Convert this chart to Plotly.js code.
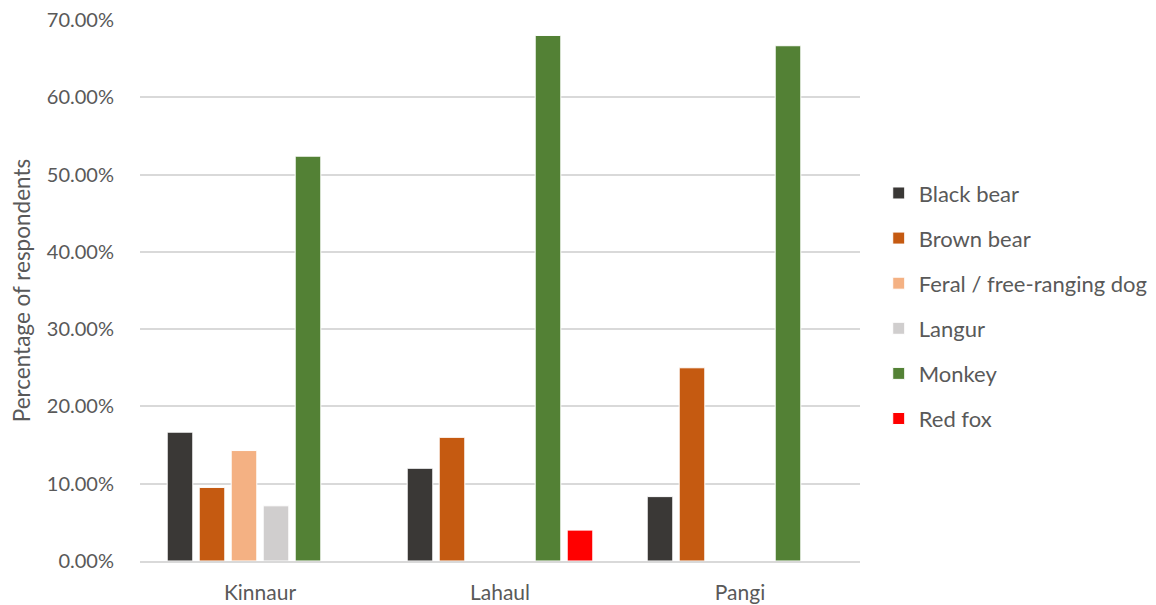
<!DOCTYPE html>
<html>
<head>
<meta charset="utf-8">
<script src="https://cdn.plot.ly/plotly-3.0.1.min.js"></script>
<style>html,body{margin:0;padding:0;background:#fff;}#chart{width:1156px;height:605px;}</style>
</head>
<body>
<div id="chart"></div>
<script>
const regions = ["Kinnaur", "Lahaul", "Pangi"];
const blackBear = [0.1667, 0.12, 0.0833];
const brownBear = [0.0952, 0.16, 0.25];
const feralDog = [0.1429, 0, 0];
const langur = [0.0714, 0, 0];
const monkey = [0.5238, 0.68, 0.6667];
const redFox = [0, 0.04, 0];
const seriesNames = ["Black bear", "Brown bear", "Feral / free-ranging dog", "Langur", "Monkey", "Red fox"];
const seriesValues = [blackBear, brownBear, feralDog, langur, monkey, redFox];
const seriesColors = ["#3a3836", "#c55a11", "#f4b183", "#d0cece", "#538135", "#ff0000"];

const traces = seriesNames.map((name, i) => ({
  type: "bar",
  name: name,
  x: regions,
  y: seriesValues[i],
  legendgroup: "g" + i,
  marker: {color: seriesColors[i], line: {color: "#ffffff", width: 1}},
  hoverinfo: "x+y+name"
}));

const font = "Lato, 'Open Sans', sans-serif";
const layout = {
  width: 1156, height: 605,
  margin: {l: 140, r: 296, t: 20, b: 44, autoexpand: false},
  paper_bgcolor: "#ffffff", plot_bgcolor: "#ffffff",
  barmode: "group",
  bargap: 0.2,
  bargroupgap: 0.2,
  font: {family: font, color: "#595959", size: 20},
  xaxis: {
    showgrid: false, showline: true, linecolor: "#d9d9d9", linewidth: 2,
    ticks: "", tickfont: {size: 21, color: "#595959"}, ticklabelstandoff: 12
  },
  yaxis: {
    range: [0, 0.7], dtick: 0.1, tickformat: ".2%",
    showgrid: true, gridcolor: "#d9d9d9", gridwidth: 2,
    zeroline: false, showline: false, ticks: "",
    tickfont: {size: 20, color: "#595959"}, ticklabelstandoff: 25,
    title: {text: "Percentage of respondents", font: {size: 22.5, color: "#595959"}, standoff: 9}
  },
  legend: {
    x: 1.026, xanchor: "left", y: 0.471, yanchor: "middle",
    font: {size: 22, color: "#595959"},
    tracegroupgap: 13.5, itemclick: false
  },
  showlegend: true
};

Plotly.newPlot("chart", traces, layout, {displayModeBar: false, staticPlot: true});
</script>
</body>
</html>
